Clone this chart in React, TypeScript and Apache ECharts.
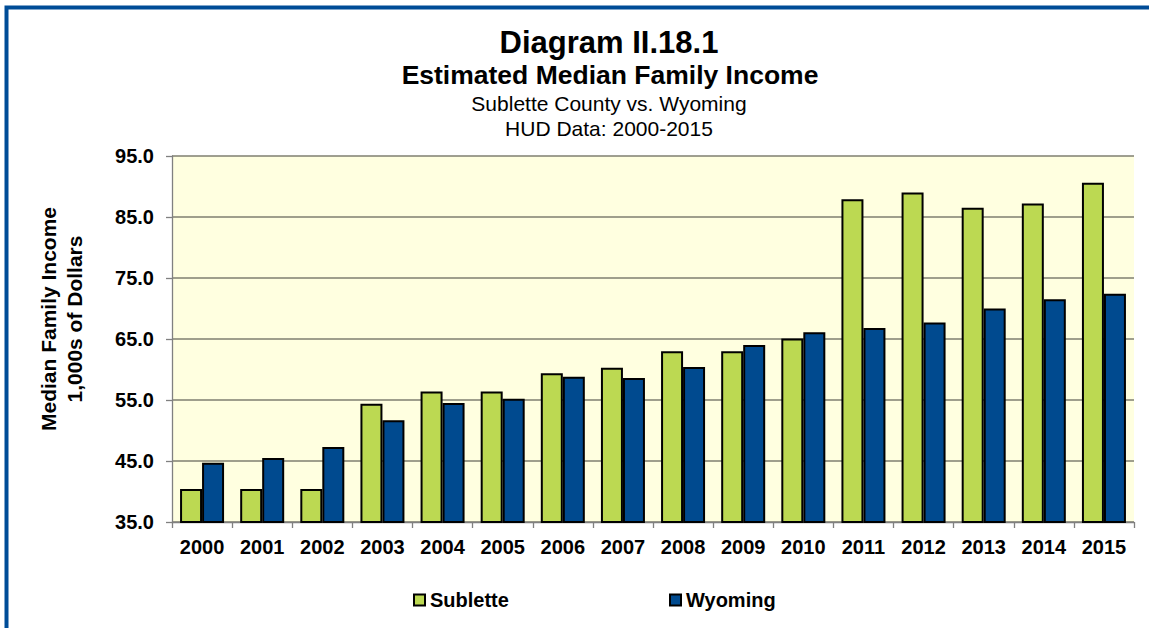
import React, { useEffect, useRef } from "react";
import * as echarts from "echarts";

const years = ["2000","2001","2002","2003","2004","2005","2006","2007","2008","2009","2010","2011","2012","2013","2014","2015"];
const sublette = [40.4, 40.4, 40.4, 54.4, 56.4, 56.4, 59.4, 60.3, 63.0, 63.0, 65.1, 87.9, 89.0, 86.5, 87.2, 90.6];
const wyoming = [44.7, 45.5, 47.3, 51.7, 54.5, 55.2, 58.8, 58.6, 60.4, 64.0, 66.1, 66.8, 67.7, 70.0, 71.5, 72.4];
const titleLines = ["Diagram II.18.1", "Estimated Median Family Income", "Sublette County vs. Wyoming", "HUD Data: 2000-2015"];
const yAxisTitle = "Median Family Income\n1,000s of Dollars";

const FONT = 'Arial, "Liberation Sans", sans-serif';
const GREEN = "#BCD952";
const BLUE = "#004A8F";

export default function App() {
  const ref = useRef<HTMLDivElement>(null);
  useEffect(() => {
    document.body.style.margin = "0";
    const chart = echarts.init(ref.current!, null, { renderer: "svg" });
    const legendText = { fontFamily: FONT, fontWeight: "bold", fontSize: 20, color: "#000" };
    chart.setOption({
      animation: false,
      backgroundColor: "#ffffff",
      graphic: [
        { type: "rect", shape: { x: 6.5, y: 7.5, width: 1200, height: 700 }, style: { fill: "none", stroke: "#004C97", lineWidth: 4 }, z: 100 },
        { type: "text", x: 609, y: 42, style: { text: titleLines[0], font: `bold 31px ${FONT}`, fill: "#000", textAlign: "center", textVerticalAlign: "middle" } },
        { type: "text", x: 610, y: 75, style: { text: titleLines[1], font: `bold 26.5px ${FONT}`, fill: "#000", textAlign: "center", textVerticalAlign: "middle" } },
        { type: "text", x: 609, y: 103, style: { text: titleLines[2], font: `21px ${FONT}`, fill: "#000", textAlign: "center", textVerticalAlign: "middle" } },
        { type: "text", x: 609, y: 128, style: { text: titleLines[3], font: `21px ${FONT}`, fill: "#000", textAlign: "center", textVerticalAlign: "middle" } },
        {
          type: "text", x: 61, y: 319, rotation: Math.PI / 2,
          style: { text: yAxisTitle, font: `bold 21px ${FONT}`, fill: "#000", textAlign: "center", textVerticalAlign: "middle", lineHeight: 26 },
        },
      ],
      grid: {
        left: 172, top: 156, right: 15, bottom: 106,
        show: true, backgroundColor: "#FFFFE0", borderWidth: 0,
      },
      legend: [
        {
          data: ["Sublette"], left: 413, top: 590, padding: 0, icon: "rect", itemWidth: 11, itemHeight: 11,
          itemStyle: { borderColor: "#000", borderWidth: 2 },
          textStyle: legendText,
        },
        {
          data: ["Wyoming"], left: 669, top: 590, padding: 0, icon: "rect", itemWidth: 11, itemHeight: 11,
          itemStyle: { borderColor: "#000", borderWidth: 2 },
          textStyle: legendText,
        },
      ],
      xAxis: {
        type: "category",
        data: years,
        axisLine: { lineStyle: { color: "#808080", width: 1.3 } },
        axisTick: { show: true, length: 6, lineStyle: { color: "#808080", width: 1.3 } },
        axisLabel: { fontFamily: FONT, fontWeight: "bold", fontSize: 20, color: "#000", margin: 15, interval: 0 },
      },
      yAxis: {
        type: "value",
        min: 35, max: 95, interval: 10,
        axisLine: { show: true, lineStyle: { color: "#808080", width: 1.3 } },
        axisTick: { show: true, length: 6, lineStyle: { color: "#808080", width: 1.3 } },
        axisLabel: { fontFamily: FONT, fontWeight: "bold", fontSize: 20, color: "#000", margin: 18, formatter: (v: number) => v.toFixed(1) },
        splitLine: { show: true, lineStyle: { color: "#7F7F70", width: 1.5 } },
      },
      series: [
        {
          name: "Sublette", type: "bar", data: sublette, barWidth: 22, barGap: "0%",
          itemStyle: { color: GREEN, borderColor: "#000", borderWidth: 2 },
        },
        {
          name: "Wyoming", type: "bar", data: wyoming, barWidth: 22, barGap: "0%",
          itemStyle: { color: BLUE, borderColor: "#000", borderWidth: 2 },
        },
      ],
    });
    return () => chart.dispose();
  }, []);
  return <div ref={ref} style={{ width: 1149, height: 628 }} />;
}
